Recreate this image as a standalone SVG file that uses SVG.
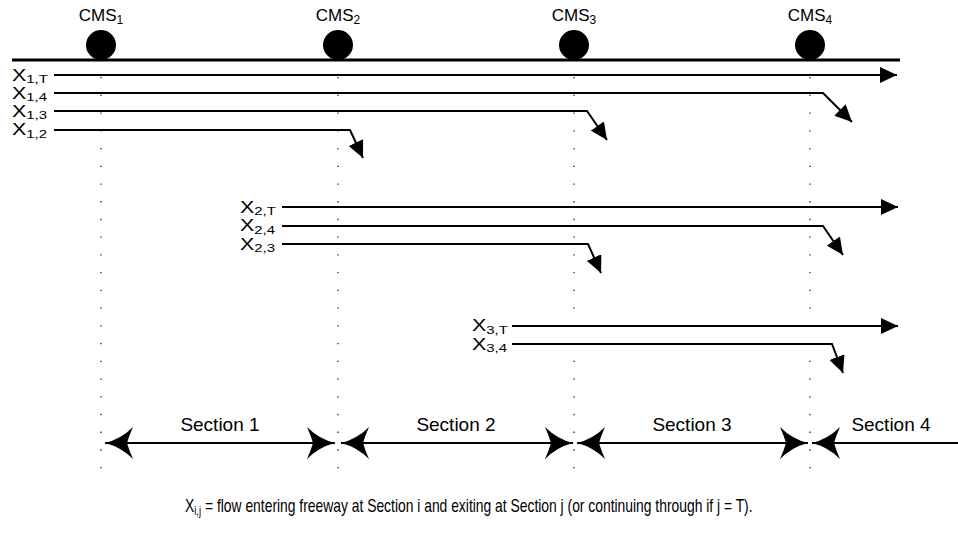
<svg xmlns="http://www.w3.org/2000/svg" width="958" height="535" viewBox="0 0 958 535">
  <style>
    text { font-family: "Liberation Sans", Arial, sans-serif; fill: #000; }
    .cms { font-size: 17px; text-anchor: middle; }
    .flbl { font-size: 16.5px; }
    .sec { font-size: 19px; text-anchor: middle; }
    .cap { font-size: 19px; }
    .road { stroke: #000; stroke-width: 3.2; fill: none; }
    .flow { stroke: #000; stroke-width: 2; fill: none; marker-end: url(#tri); }
    .guide { stroke: #222; stroke-width: 1.3; stroke-dasharray: 1.3 16.43; fill: none; }
    .span { stroke: #000; stroke-width: 2; fill: none; }
  </style>
  <defs>
    <!-- solid triangle head for flow paths -->
    <marker id="tri" markerUnits="userSpaceOnUse" viewBox="0 0 17 16" markerWidth="17" markerHeight="16" refX="17" refY="8" orient="auto">
      <path d="M0,0 L17,8 L0,16 Z" fill="#000"/>
    </marker>
    <!-- concave head for section extents -->
    <marker id="cusp" markerUnits="userSpaceOnUse" viewBox="0 -17 29 34" markerWidth="29" markerHeight="34" refX="28" refY="0" orient="auto-start-reverse">
      <path d="M28,0 Q12,-4 0,-16 Q4,-7 6,0 Q4,7 0,16 Q12,4 28,0 Z" fill="#000"/>
    </marker>
  </defs>

  <!-- freeway mainline -->
  <g id="freeway">
    <line class="road" x1="12" y1="60" x2="900" y2="60"/>
  </g>

  <!-- detector stations -->
  <g id="cms1">
    <circle cx="101" cy="45" r="15" fill="#000"/>
    <text class="cms" x="101" y="21">CMS<tspan font-size="12" dy="3">1</tspan></text>
  </g>
  <g id="cms2">
    <circle cx="338" cy="45" r="15" fill="#000"/>
    <text class="cms" x="338" y="21">CMS<tspan font-size="12" dy="3">2</tspan></text>
  </g>
  <g id="cms3">
    <circle cx="574" cy="45" r="15" fill="#000"/>
    <text class="cms" x="574" y="21">CMS<tspan font-size="12" dy="3">3</tspan></text>
  </g>
  <g id="cms4">
    <circle cx="810" cy="45" r="15" fill="#000"/>
    <text class="cms" x="810" y="21">CMS<tspan font-size="12" dy="3">4</tspan></text>
  </g>

  <!-- station boundaries -->
  <g id="guides">
    <line class="guide" x1="101" y1="77" x2="101" y2="470"/>
    <line class="guide" x1="338" y1="77" x2="338" y2="470"/>
    <line class="guide" x1="574" y1="77" x2="574" y2="470"/>
    <line class="guide" x1="810" y1="77" x2="810" y2="470"/>
  </g>

  <!-- origin-destination flow labels (wide-set) -->
  <g id="x1T" transform="translate(12,80.5) scale(1.3,1)"><text class="flbl">X<tspan font-size="11.5" dy="2.5">1,T</tspan></text></g>
  <g id="x14" transform="translate(12,98.5) scale(1.3,1)"><text class="flbl">X<tspan font-size="11.5" dy="2.5">1,4</tspan></text></g>
  <g id="x13" transform="translate(12,116.5) scale(1.3,1)"><text class="flbl">X<tspan font-size="11.5" dy="2.5">1,3</tspan></text></g>
  <g id="x12" transform="translate(12,135) scale(1.3,1)"><text class="flbl">X<tspan font-size="11.5" dy="2.5">1,2</tspan></text></g>
  <g id="x2T" transform="translate(240,212.5) scale(1.3,1)"><text class="flbl">X<tspan font-size="11.5" dy="2.5">2,T</tspan></text></g>
  <g id="x24" transform="translate(240,231) scale(1.3,1)"><text class="flbl">X<tspan font-size="11.5" dy="2.5">2,4</tspan></text></g>
  <g id="x23" transform="translate(240,249.5) scale(1.3,1)"><text class="flbl">X<tspan font-size="11.5" dy="2.5">2,3</tspan></text></g>
  <g id="x3T" transform="translate(472,331) scale(1.3,1)"><text class="flbl">X<tspan font-size="11.5" dy="2.5">3,T</tspan></text></g>
  <g id="x34" transform="translate(472,349.5) scale(1.3,1)"><text class="flbl">X<tspan font-size="11.5" dy="2.5">3,4</tspan></text></g>

  <!-- flow paths -->
  <g id="flows">
    <path class="flow" d="M54,75 H897"/>
    <path class="flow" d="M54,93 H823 L852,122"/>
    <path class="flow" d="M54,111 H587 L607,140"/>
    <path class="flow" d="M54,130 H350 L363,158"/>
    <path class="flow" d="M282,207 H898"/>
    <path class="flow" d="M282,226 H823 L843,255"/>
    <path class="flow" d="M282,244 H588 L601,273"/>
    <path class="flow" d="M512,326 H898"/>
    <path class="flow" d="M512,344 H832 L843,373"/>
  </g>

  <!-- section extents -->
  <g id="sections">
    <line class="span" x1="105" y1="443" x2="335" y2="443" marker-start="url(#cusp)" marker-end="url(#cusp)"/>
    <line class="span" x1="341" y1="443" x2="573" y2="443" marker-start="url(#cusp)" marker-end="url(#cusp)"/>
    <line class="span" x1="577" y1="443" x2="808" y2="443" marker-start="url(#cusp)" marker-end="url(#cusp)"/>
    <line class="span" x1="812" y1="443" x2="958" y2="443" marker-start="url(#cusp)"/>
  </g>
  <g id="section1"><text class="sec" x="220" y="431">Section 1</text></g>
  <g id="section2"><text class="sec" x="456" y="431">Section 2</text></g>
  <g id="section3"><text class="sec" x="692" y="431">Section 3</text></g>
  <g id="section4"><text class="sec" x="891" y="431">Section 4</text></g>

  <!-- legend, set in a narrowed face -->
  <g id="legend" transform="translate(185,512) scale(0.73,1)">
    <text class="cap" x="0" y="0">X<tspan font-size="13" dy="3">i,j</tspan><tspan dy="-3"> = flow entering freeway at Section i and exiting at Section j (or continuing through if j = T).</tspan></text>
  </g>
</svg>
